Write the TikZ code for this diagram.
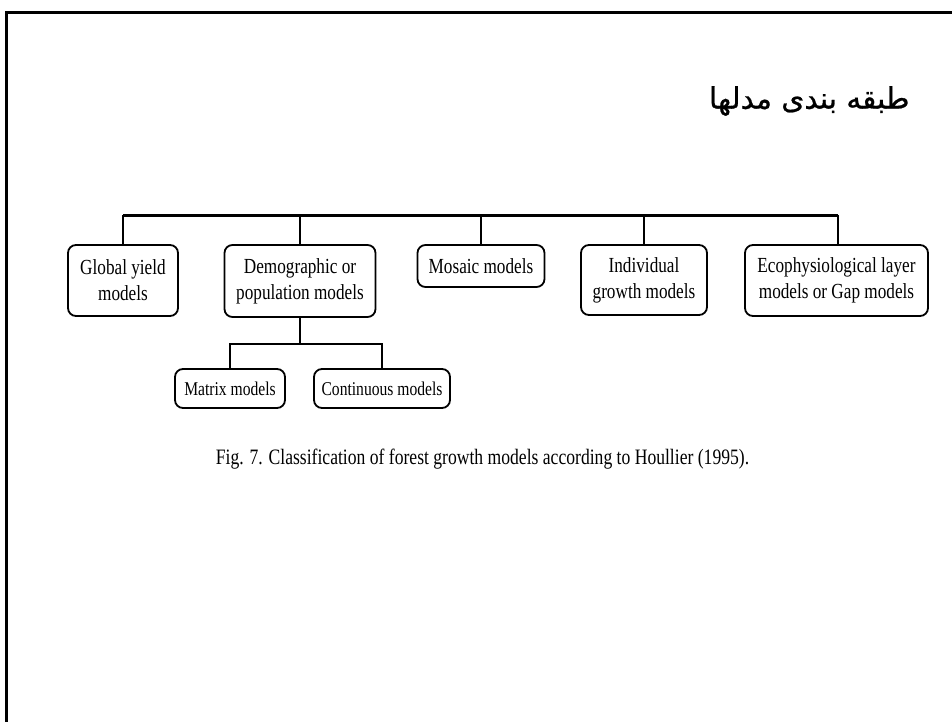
\documentclass[tikz,border=0pt]{standalone}
\usepackage{fontspec}
\setmainfont{Liberation Serif}
\newfontfamily\boxfont[FakeStretch=0.8]{Liberation Serif}
\newfontfamily\arabicfont[Script=Arabic,FakeBold=0.8]{DejaVu Sans}
\TeXXeTstate=1
\begin{document}
\begin{tikzpicture}[x=1pt,y=-1pt,
  model/.style={draw, line width=1.8pt, rounded corners=8pt, inner sep=0pt,
    align=center, font=\boxfont\fontsize{21.5}{26}\selectfont},
  submodel/.style={model, font=\boxfont\fontsize{19.5}{23}\selectfont},
  link/.style={line width=2pt},
  barline/.style={line width=3pt}]
  \useasboundingbox (0,0) rectangle (952,721);
  % page frame, open on the right and at the bottom
  \draw[line width=3pt] (6,740) -- (6,12) -- (970,12);
  % title
  \node[anchor=east, font=\arabicfont\fontsize{29.5}{35}\selectfont] (title) at (913,101)
    {\beginR طبقه بندی مدلها\endR};
  % model classes
  \node[model, minimum width=110pt, minimum height=71pt] (gy) at (123,280.5) {Global yield\\models};
  \node[model, minimum width=151pt, minimum height=72pt] (dm) at (300,281) {Demographic or\\population models};
  \node[model, minimum width=127pt, minimum height=42pt] (mo) at (481,266) {Mosaic models};
  \node[model, minimum width=126pt, minimum height=70pt] (iv) at (644,280) {Individual\\growth models};
  \node[model, minimum width=183pt, minimum height=71pt] (ec) at (836.5,280.5) {Ecophysiological layer\\models or Gap models};
  \node[submodel, minimum width=110pt, minimum height=39pt] (mx) at (230,388.5) {Matrix models};
  \node[submodel, minimum width=136pt, minimum height=39pt] (ct) at (382,388.5) {Continuous models};
  % tree connectors
  \coordinate (bar) at (0,215);
  \draw[barline] (gy.north |- bar) -- ([xshift=1.5pt]ec.north |- bar);
  \foreach \n in {gy,dm,mo,iv} \draw[link] (\n.north) -- (\n.north |- bar);
  \draw[link] ([xshift=1.5pt]ec.north) -- ([xshift=1.5pt]ec.north |- bar);
  \coordinate (split) at ([yshift=-26pt]dm.south);
  \draw[link] (dm.south) -- (split);
  \draw[link] (mx.north) |- (split) -| (ct.north);
  % caption
  \node[font=\boxfont\fontsize{22}{26}\selectfont, anchor=base] (cap) at (482.5,464)
    {Fig. 7. Classification of forest growth models according to Houllier (1995).};
\end{tikzpicture}
\end{document}
